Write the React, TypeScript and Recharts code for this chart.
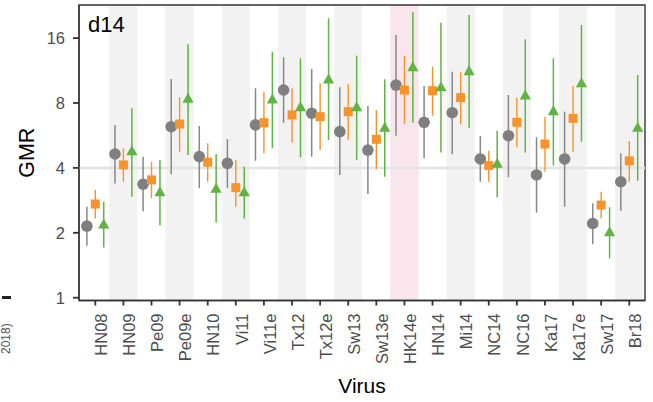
import React from "react";
import {
  ErrorBar,
  ReferenceArea,
  ReferenceLine,
  Scatter,
  ScatterChart,
  XAxis,
  YAxis
} from "recharts";

const categories = [
  "HN08", "HN09", "Pe09", "Pe09e", "HN10", "Vi11", "Vi11e", "Tx12", "Tx12e", "Sw13",
  "Sw13e", "HK14e", "HN14", "Mi14", "NC14", "NC16", "Ka17", "Ka17e", "Sw17", "Br18"
];

// grey circles
const greyMid = [2.15, 4.64, 3.36, 6.21, 4.51, 4.2, 6.33, 9.19, 7.17, 5.89, 4.84, 9.69, 6.51, 7.21, 4.4, 5.64, 3.71, 4.4, 2.21, 3.45];
const greyLo = [1.74, 3.39, 2.51, 3.74, 3.22, 3.22, 4.32, 6.48, 4.51, 3.71, 3.03, 5.64, 4.43, 4.63, 3.45, 3.62, 2.48, 2.64, 1.77, 2.53];
const greyHi = [2.64, 6.33, 4.51, 10.34, 6.26, 5.43, 9.36, 13.03, 11.5, 9.46, 7.75, 16.54, 9.59, 11.18, 5.62, 8.71, 5.55, 7.29, 2.74, 4.68];

// orange squares
const orangeMid = [2.72, 4.13, 3.52, 6.39, 4.25, 3.24, 6.48, 7.04, 6.91, 7.29, 5.43, 9.19, 9.12, 8.47, 4.1, 6.51, 5.16, 6.79, 2.69, 4.31];
const orangeLo = [2.33, 3.45, 2.89, 4.75, 3.45, 2.64, 4.68, 5.24, 4.84, 5.39, 3.94, 6.39, 6.99, 6.37, 3.45, 4.98, 3.84, 4.75, 2.33, 3.45];
const orangeHi = [3.16, 4.93, 4.27, 8.5, 5.2, 4.35, 9.03, 9.36, 9.87, 9.8, 7.42, 13.22, 11.79, 11.18, 4.81, 8.47, 6.91, 9.59, 3.1, 5.33];

// green triangles
const greenMid = [2.2, 4.81, 3.1, 8.41, 3.22, 3.1, 8.35, 7.69, 10.34, 7.69, 6.17, 11.79, 9.52, 11.3, 4.2, 8.71, 7.37, 9.94, 2.02, 6.17];
const greenLo = [1.71, 2.94, 2.17, 4.59, 2.23, 2.33, 4.93, 4.48, 5.39, 4.35, 3.64, 6.48, 4.71, 6.14, 2.92, 4.71, 4.1, 5.29, 1.52, 3.49];
const greenHi = [2.79, 7.56, 4.35, 14.97, 4.63, 4.05, 13.83, 12.9, 19.77, 13.26, 10.3, 21.07, 18.86, 20.48, 5.95, 15.79, 12.9, 18.4, 2.63, 10.79];

const yTicks = [1, 2, 4, 8, 16];
const greyBands = ["HN09", "Pe09e", "Vi11", "Tx12", "Sw13", "Mi14", "NC16", "Ka17e", "Br18"];
const pinkBands = ["HK14e"];
const panelTag = "d14";

const X_DOMAIN: [number, number] = [0.42, 20.56];
const Y_DOMAIN: [number, number] = [0.9706, 22.78];

const GREY = "#7f7f7f";
const ORANGE = "#f7932b";
const GREEN = "#5fb442";
const FONT = "'Liberation Sans', Arial, sans-serif";

const toRows = (mid: number[], lo: number[], hi: number[], shift: number) =>
  mid.map((m, i) => ({ x: i + 1 + shift, y: m, err: [m - lo[i], hi[i] - m] }));

const greyRows = toRows(greyMid, greyLo, greyHi, -0.3);
const orangeRows = toRows(orangeMid, orangeLo, orangeHi, 0);
const greenRows = toRows(greenMid, greenLo, greenHi, 0.3);

const CircleDot = (p: any) => <circle cx={p.cx} cy={p.cy} r={5.8} fill={GREY} />;
const SquareDot = (p: any) => <rect x={p.cx - 4.5} y={p.cy - 4.5} width={9} height={9} fill={ORANGE} />;
const TriangleDot = (p: any) => (
  <polygon
    points={`${p.cx},${p.cy - 5.5} ${p.cx - 5.6},${p.cy + 4.5} ${p.cx + 5.6},${p.cy + 4.5}`}
    fill={GREEN}
  />
);

const VirusTick = ({ x, y, payload }: any) => (
  <text
    x={x}
    y={y}
    dy="0.71em"
    transform={`rotate(-90, ${x}, ${y})`}
    textAnchor="end"
    fontSize={16.5}
    fontFamily={FONT}
    fill="#4d4d4d"
  >
    {categories[payload.value - 1]}
  </text>
);

const App = () => {
  return (
    <div style={{ position: "fixed", left: 0, top: 0, width: 653, height: 402, background: "#fff", overflow: "hidden" }}>
      <div
        style={{
          position: "absolute",
          left: 0,
          top: 308,
          width: 12,
          height: 46,
          writingMode: "vertical-rl",
          transform: "rotate(180deg)",
          fontFamily: FONT,
          fontSize: 12,
          color: "#555",
          lineHeight: "12px"
        }}
      >
        2018)
      </div>
      <div style={{ position: "absolute", left: 2, top: 296, width: 9, height: 3, background: "#222" }} />
      <ScatterChart width={653} height={402} margin={{ top: 5, right: 8, bottom: 0, left: 0 }}>
        {greyBands.map((c) => {
          const i = categories.indexOf(c) + 1;
          return (
            <ReferenceArea
              key={c}
              x1={i - 0.5}
              x2={Math.min(i + 0.5, X_DOMAIN[1])}
              y1={Y_DOMAIN[0]}
              y2={Y_DOMAIN[1]}
              fill="#f2f2f2"
              fillOpacity={1}
              stroke="none"
            />
          );
        })}
        {pinkBands.map((c) => {
          const i = categories.indexOf(c) + 1;
          return (
            <ReferenceArea
              key={c}
              x1={i - 0.5}
              x2={i + 0.5}
              y1={Y_DOMAIN[0]}
              y2={Y_DOMAIN[1]}
              fill="#f8e6ec"
              fillOpacity={1}
              stroke="none"
            />
          );
        })}
        <ReferenceLine y={4} stroke="#e4e4e4" strokeWidth={2.5} />
        <XAxis
          type="number"
          dataKey="x"
          domain={X_DOMAIN}
          allowDataOverflow
          ticks={categories.map((_, i) => i + 1)}
          interval={0}
          height={101.5}
          tick={<VirusTick />}
          tickSize={5}
          tickMargin={8}
          axisLine={{ stroke: "#333", strokeWidth: 1.3 }}
          tickLine={{ stroke: "#333", strokeWidth: 1.8 }}
          label={({ viewBox }: any) => (
            <text
              x={viewBox.x + viewBox.width / 2}
              y={viewBox.y + 92.5}
              textAnchor="middle"
              fontSize={21}
              fontFamily={FONT}
              fill="#000"
            >
              Virus
            </text>
          )}
        />
        <YAxis
          type="number"
          dataKey="y"
          scale="log"
          domain={Y_DOMAIN}
          allowDataOverflow
          ticks={yTicks}
          width={79}
          tickSize={6}
          tickMargin={8}
          tick={{ fontSize: 16.5, fontFamily: FONT, fill: "#4d4d4d" }}
          axisLine={{ stroke: "#333", strokeWidth: 1.3 }}
          tickLine={{ stroke: "#333", strokeWidth: 1.8 }}
          label={({ viewBox }: any) => (
            <text
              x={27}
              y={viewBox.y + viewBox.height / 2}
              transform={`rotate(-90, 27, ${viewBox.y + viewBox.height / 2})`}
              textAnchor="middle"
              dominantBaseline="central"
              fontSize={21.5}
              fontFamily={FONT}
              fill="#000"
            >
              GMR
            </text>
          )}
        />
        <Scatter data={greyRows} shape={<CircleDot />} isAnimationActive={false}>
          <ErrorBar dataKey="err" direction="y" width={0} stroke="#888" strokeWidth={1.5} />
        </Scatter>
        <Scatter data={orangeRows} shape={<SquareDot />} isAnimationActive={false}>
          <ErrorBar dataKey="err" direction="y" width={0} stroke={ORANGE} strokeWidth={1.4} />
        </Scatter>
        <Scatter data={greenRows} shape={<TriangleDot />} isAnimationActive={false}>
          <ErrorBar dataKey="err" direction="y" width={0} stroke={GREEN} strokeWidth={1.5} />
        </Scatter>
        <ReferenceArea
          x1={X_DOMAIN[0]}
          x2={X_DOMAIN[1]}
          y1={Y_DOMAIN[0]}
          y2={Y_DOMAIN[1]}
          ifOverflow="visible"
          fill="none"
          stroke="#333"
          strokeWidth={1.4}
          label={({ viewBox }: any) => (
            <text x={viewBox.x + 9} y={viewBox.y + 26.5} fontSize={22} fontFamily={FONT} fill="#000">
              {panelTag}
            </text>
          )}
        />
      </ScatterChart>
    </div>
  );
};

export default App;
